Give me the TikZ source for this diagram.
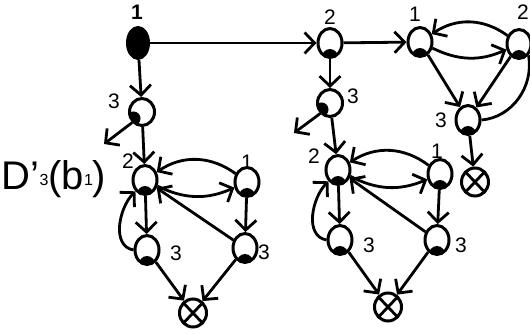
\documentclass[tikz,border=0pt]{standalone}
\usepackage{fontspec}
\setmainfont{Liberation Sans}
\usetikzlibrary{shapes.geometric,arrows.meta}
\tikzset{
  st/.style={ellipse, draw, line width=3pt, fill=white, minimum width=24pt, minimum height=29pt, inner sep=0pt,
    path picture={\fill[black] ([yshift=-1pt]path picture bounding box.south) ellipse (8.5pt and 9.5pt);}},
  stl/.style={ellipse, draw, line width=3pt, fill=white, minimum width=25pt, minimum height=27pt, inner sep=0pt,
    path picture={\fill[black] ([xshift=4pt,yshift=7pt]path picture bounding box.south west) circle (7pt);}},
  blk/.style={ellipse, draw, line width=3pt, fill=black, minimum width=21pt, minimum height=31pt, inner sep=0pt},
  fin/.style={ellipse, draw, line width=3pt, fill=white, minimum width=27pt, minimum height=28pt, inner sep=0pt,
    path picture={\draw[black,line width=2.8pt] ([shift={(4pt,4pt)}]path picture bounding box.south west) -- ([shift={(-4pt,-4pt)}]path picture bounding box.north east)
      ([shift={(4pt,-4pt)}]path picture bounding box.north west) -- ([shift={(-4pt,4pt)}]path picture bounding box.south east);}},
  ar/.style={line width=2.8pt, -{Straight Barb[length=10pt,width=21pt,line width=2.8pt]}},
  ln/.style={line width=2.8pt},
  lab/.style={font=\fontsize{21}{21}\selectfont, inner sep=0pt}
}
\begin{document}
\begin{tikzpicture}[x=1pt,y=1pt]
\useasboundingbox (0,0) rectangle (530,334);
% left tree
\node[blk] (A) at (138,291) {};
\node[lab,font=\fontsize{21}{21}\selectfont\bfseries] (lA) at (137,322) {1};
\node[stl] (C) at (142,222) {};
\node[lab] (lC) at (114,233) {3};
\coordinate (cend) at (104,190);
\node[st] (D) at (145,154) {};
\node[lab] (lD) at (128,173) {2};
\node[st] (E) at (247,152) {};
\node[lab] (lE) at (247,172) {1};
\node[st] (F) at (147,84) {};
\node[lab] (lF) at (176,81) {3};
\node[st] (G) at (245,86) {};
\node[lab] (lG) at (264,82) {3};
\node[fin] (X1) at (193,21) {};
\node[inner sep=0pt] (T) at (54,155) {\fontsize{40}{40}\selectfont D'\raisebox{4pt}{\fontsize{16}{16}\selectfont 3}(b\raisebox{4pt}{\fontsize{16}{16}\selectfont 1})};
% middle tree
\node[st] (B) at (330,291) {};
\node[lab] (lB) at (330,317) {2};
\node[stl] (I) at (330,231) {};
\node[lab] (lI) at (353,238) {3};
\coordinate (iend) at (294,201);
\node[st] (J) at (338,164) {};
\node[lab] (lJ) at (314,178) {2};
\node[st] (K) at (440,160) {};
\node[lab] (lK) at (437,183) {1};
\node[st] (L) at (340,94) {};
\node[lab] (lL) at (369,89) {3};
\node[st] (M) at (437,94) {};
\node[lab] (lM) at (461,89) {3};
\node[fin] (X2) at (388,27) {};
% right group
\node[st] (H) at (420,292) {};
\node[lab] (lH) at (415,320) {1};
\node[st] (N) at (519,290) {};
\node[lab] (lN) at (523,322) {2};
\node[st] (P) at (468,214) {};
\node[lab] (lP) at (441,214) {3};
\node[fin] (X3) at (475,152) {};
% edges left
\draw[ar] (A) -- (B);
\draw[ar] (A) -- (C);
\draw[ar] (C.south west) -- (cend);
\draw[ar] (C) -- (D);
\draw[ar] (D) to[bend right=25] (E);
\draw[ar] (E) to[bend right=35] (D);
\draw[ar] (D) -- (F);
\draw[ar] (F.west) to[out=170,in=225] (D.south west);
\draw[ar] (G) -- (D);
\draw[ar] (E) -- (G);
\draw[ar] (F) -- (X1);
\draw[ar] (G) -- (X1);
% edges middle
\draw[ar] (B) -- (H);
\draw[ar] (B) -- (I);
\draw[ar] (I.south west) -- (iend);
\draw[ar] (I) -- (J);
\draw[ar] (J) to[bend right=25] (K);
\draw[ar] (K) to[bend right=35] (J);
\draw[ar] (J) -- (L);
\draw[ar] (L.west) to[out=170,in=225] (J.south west);
\draw[ar] (M) -- (J);
\draw[ar] (K) -- (M);
\draw[ar] (L) -- (X2);
\draw[ar] (M) -- (X2);
% edges right
\draw[ar] (H) to[bend right=25] (N);
\draw[ar] (N) to[bend right=35] (H);
\draw[ar] (H) -- (P);
\draw[ar] (N) -- (P);
\draw[ln] (P.east) to[out=5,in=-80] (N.south east);
\draw[ar] (P) -- (X3);
\end{tikzpicture}
\end{document}
